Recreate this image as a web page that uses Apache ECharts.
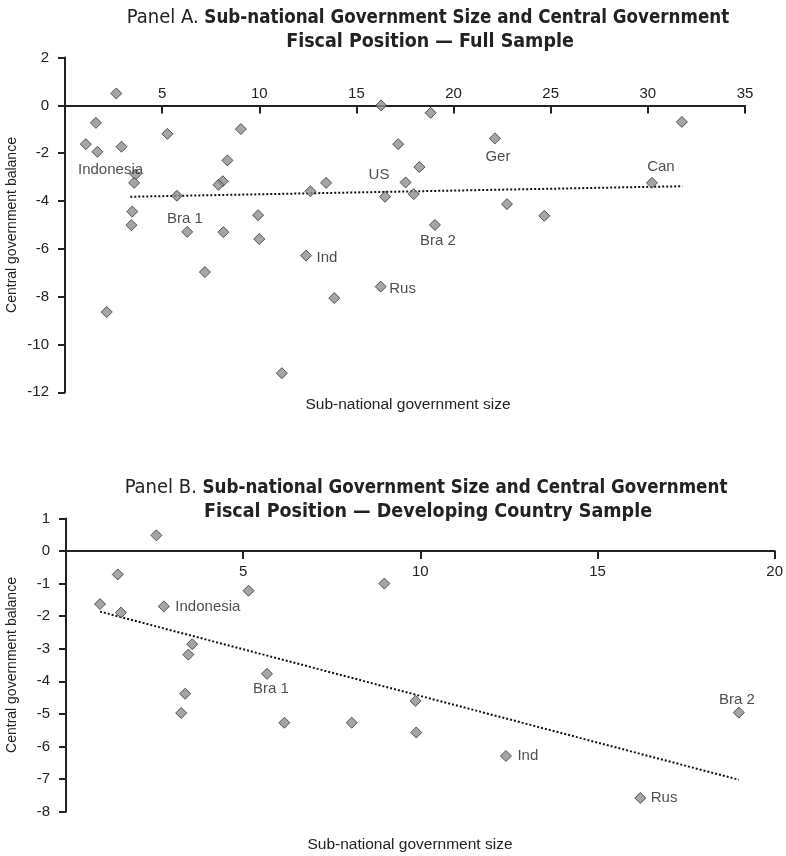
<!DOCTYPE html>
<html>
<head>
<meta charset="utf-8">
<script src="https://cdn.jsdelivr.net/npm/echarts@6/dist/echarts.min.js"></script>
<style>
  html, body { margin: 0; padding: 0; background: #fff; }
  #chart { width: 786px; height: 856px; }
</style>
</head>
<body>
<div id="chart"></div>
<script>
// Panel A: full sample — sub-national government size vs. central government balance
const sizeA = [2.64, 1.59, 1.07, 1.67, 2.91, 5.27, 9.05, 8.36, 8.12, 7.90,
               3.63, 3.56, 3.46, 3.42, 5.76, 6.29, 8.15, 9.94, 10.0, 12.63,
               13.44, 16.27, 16.47, 17.15, 2.15, 7.20, 12.41, 13.86, 11.16, 16.25,
               18.82, 22.13, 18.24, 17.53, 17.95, 22.75, 24.67, 19.04, 31.75, 30.21];
const balanceA = [0.50, -0.73, -1.62, -1.94, -1.73, -1.19, -0.99, -2.30, -3.17, -3.32,
                  -2.89, -3.24, -4.44, -5.01, -3.78, -5.29, -5.30, -4.59, -5.59, -3.59,
                  -3.24, 0.00, -3.82, -1.62, -8.64, -6.97, -6.28, -8.06, -11.20, -7.58,
                  -0.31, -1.38, -2.58, -3.22, -3.71, -4.13, -4.62, -5.00, -0.69, -3.24];
const namesA = ['', '', '', '', 'Indonesia', '', '', '', '', '',
                '', '', '', '', 'Bra 1', '', '', '', '', '',
                '', '', 'US', '', '', '', 'Ind', '', '', 'Rus',
                '', 'Ger', '', '', '', '', '', 'Bra 2', '', 'Can'];
const trendSizeA = [3.36, 31.78];
const trendBalanceA = [-3.82, -3.38];

// Panel B: developing country sample
const sizeB = [2.55, 1.46, 0.96, 1.55, 2.76, 5.15, 8.98, 3.56, 3.45, 3.36,
               3.25, 5.67, 6.16, 8.06, 9.86, 9.88, 12.41, 16.20, 18.98];
const balanceB = [0.48, -0.72, -1.63, -1.89, -1.70, -1.22, -1.00, -2.86, -3.18, -4.38,
                  -4.97, -3.77, -5.27, -5.27, -4.60, -5.57, -6.29, -7.58, -4.96];
const namesB = ['', '', '', '', 'Indonesia', '', '', '', '', '',
                '', 'Bra 1', '', '', '', '', 'Ind', 'Rus', 'Bra 2'];
const trendSizeB = [0.96, 18.98];
const trendBalanceB = [-1.86, -7.02];

// Axis ranges and tick steps
const xAxisA = { min: 0, max: 35, step: 5 };
const yAxisA = { min: -12, max: 2, step: 2 };
const xAxisB = { min: 0, max: 20, step: 5 };
const yAxisB = { min: -8, max: 1, step: 1 };

const titleA = ['Panel A. ', 'Sub-national Government Size and Central Government', 'Fiscal Position \u2014 Full Sample'];
const titleB = ['Panel B. ', 'Sub-national Government Size and Central Government', 'Fiscal Position \u2014 Developing Country Sample'];
const yTitle = 'Central government balance';
const xTitle = 'Sub-national government size';

// Label placement for named points: [dx, dy] from the marker centre; 'right' = text starts to the right
const labelPlaceA = {
  'Indonesia': { mode: 'center', d: [-11, 23] },
  'Bra 1': { mode: 'center', d: [8, 23] },
  'US': { mode: 'center', d: [-6, -22] },
  'Ger': { mode: 'center', d: [3, 18] },
  'Can': { mode: 'center', d: [9, -16] },
  'Bra 2': { mode: 'center', d: [3, 16] },
  'Ind': { mode: 'right', d: [10, 2] },
  'Rus': { mode: 'right', d: [8, 2] }
};
const labelPlaceB = {
  'Indonesia': { mode: 'right', d: [11, 0] },
  'Bra 1': { mode: 'center', d: [4, 15] },
  'Ind': { mode: 'right', d: [11, 0] },
  'Rus': { mode: 'right', d: [10, 0] },
  'Bra 2': { mode: 'center', d: [-2, -13] }
};

const FONT = "'Liberation Sans', Arial, sans-serif";
const TITLE_FONT = "'DejaVu Sans Condensed', 'Liberation Sans', sans-serif";
const TEXT = '#222';
const AXIS = '#222';
const MARK = 11;
const FS = 15;

// Plot rectangles
const gridA = { left: 65, top: 57.6, width: 680, height: 334.7 };
const gridB = { left: 66, top: 518.4, width: 709, height: 293.3 };
// Pixel row of balance = 0 inside each plot, where the horizontal axis is drawn
const zeroA = gridA.top + gridA.height * (yAxisA.max - 0) / (yAxisA.max - yAxisA.min);
const zeroB = gridB.top + gridB.height * (yAxisB.max - 0) / (yAxisB.max - yAxisB.min);

function pointData(xs, ys, names, place) {
  return xs.map((x, i) => {
    const item = { value: [x, ys[i]], name: names[i] };
    const p = names[i] ? place[names[i]] : null;
    if (p) {
      const label = { show: true, formatter: '{b}', color: TEXT, fontFamily: FONT, fontSize: FS };
      if (p.mode === 'right') {
        label.position = 'right';
        label.distance = p.d[0] - MARK / 2;
        label.offset = [0, p.d[1]];
      } else {
        label.position = 'inside';
        label.offset = p.d;
        label.align = 'center';
        label.verticalAlign = 'middle';
      }
      item.label = label;
    }
    return item;
  });
}

// Scale-only x axis of a plot (hidden)
function hiddenX(idx, r) {
  return { type: 'value', gridIndex: idx, min: r.min, max: r.max, interval: r.step, show: false };
}
// Visible x axis drawn along balance = 0
function zeroX(idx, r, pos, tickInside, margin) {
  return {
    type: 'value', gridIndex: idx, min: r.min, max: r.max, interval: r.step,
    position: pos,
    axisLine: { onZero: false, lineStyle: { color: AXIS, width: 2 } },
    axisTick: { show: true, inside: tickInside, length: 8, lineStyle: { color: AXIS, width: 2 } },
    axisLabel: { color: TEXT, fontFamily: FONT, fontSize: FS, margin: margin,
                 formatter: v => (v === 0 ? '' : String(v)) },
    splitLine: { show: false }
  };
}
function yAxisCfg(idx, r) {
  return {
    type: 'value', gridIndex: idx, min: r.min, max: r.max, interval: r.step,
    axisLine: { show: true, onZero: false, lineStyle: { color: AXIS, width: 2 } },
    axisTick: { show: true, inside: false, length: 7, lineStyle: { color: AXIS, width: 2 } },
    axisLabel: { color: TEXT, fontFamily: FONT, fontSize: FS, margin: 16 },
    splitLine: { show: false }
  };
}
function hiddenY(idx) {
  return { type: 'value', gridIndex: idx, min: 0, max: 1, show: false };
}

function titleText(lines, x, y) {
  return [
    { type: 'text', x: x, y: y, style: {
        text: '{n|' + lines[0] + '}{b|' + lines[1] + '}', align: 'center', verticalAlign: 'middle',
        rich: {
          n: { fontFamily: TITLE_FONT, fontSize: 20, fontWeight: 'normal', fill: '#222' },
          b: { fontFamily: TITLE_FONT, fontSize: 18.6, fontWeight: 'bold', fill: '#222' }
        } } },
    { type: 'text', x: x + 2, y: y + 24, style: {
        text: lines[2], align: 'center', verticalAlign: 'middle',
        font: 'bold 19.5px ' + TITLE_FONT, fill: '#222' } }
  ];
}

const chart = echarts.init(document.getElementById('chart'), null, { renderer: 'canvas' });

const markerStyle = { color: '#8e8e8e', borderColor: '#333', borderWidth: 1 };
const trendStyle = { color: '#111', width: 2, type: [2, 2] };

chart.setOption({
  animation: false,
  backgroundColor: '#fff',
  grid: [
    Object.assign({}, gridA),
    Object.assign({}, gridB),
    { left: gridA.left, width: gridA.width, top: zeroA, height: 1 },
    { left: gridB.left, width: gridB.width, top: zeroB - 1, height: 1 }
  ],
  xAxis: [
    hiddenX(0, xAxisA), hiddenX(1, xAxisB),
    zeroX(2, xAxisA, 'top', true, 4),
    zeroX(3, xAxisB, 'bottom', false, 13)
  ],
  yAxis: [yAxisCfg(0, yAxisA), yAxisCfg(1, yAxisB), hiddenY(2), hiddenY(3)],
  series: [
    { type: 'scatter', xAxisIndex: 0, yAxisIndex: 0, symbol: 'diamond', symbolSize: MARK,
      itemStyle: markerStyle, data: pointData(sizeA, balanceA, namesA, labelPlaceA), z: 3 },
    { type: 'line', xAxisIndex: 0, yAxisIndex: 0, symbol: 'none', silent: true,
      lineStyle: trendStyle, data: trendSizeA.map((x, i) => [x, trendBalanceA[i]]), z: 2 },
    { type: 'scatter', xAxisIndex: 1, yAxisIndex: 1, symbol: 'diamond', symbolSize: MARK,
      itemStyle: markerStyle, data: pointData(sizeB, balanceB, namesB, labelPlaceB), z: 3 },
    { type: 'line', xAxisIndex: 1, yAxisIndex: 1, symbol: 'none', silent: true,
      lineStyle: trendStyle, data: trendSizeB.map((x, i) => [x, trendBalanceB[i]]), z: 2 }
  ],
  graphic: [
    ...titleText(titleA, 428, 18),
    ...titleText(titleB, 426, 488),
    { type: 'text', x: 12, y: 225, rotation: Math.PI / 2, style: {
        text: yTitle, align: 'center', verticalAlign: 'middle', font: '14px ' + FONT, fill: TEXT } },
    { type: 'text', x: 12, y: 665, rotation: Math.PI / 2, style: {
        text: yTitle, align: 'center', verticalAlign: 'middle', font: '14px ' + FONT, fill: TEXT } },
    { type: 'text', x: 408, y: 405, style: {
        text: xTitle, align: 'center', verticalAlign: 'middle', font: '15.5px ' + FONT, fill: TEXT } },
    { type: 'text', x: 410, y: 845, style: {
        text: xTitle, align: 'center', verticalAlign: 'middle', font: '15.5px ' + FONT, fill: TEXT } }
  ]
});
</script>
</body>
</html>
